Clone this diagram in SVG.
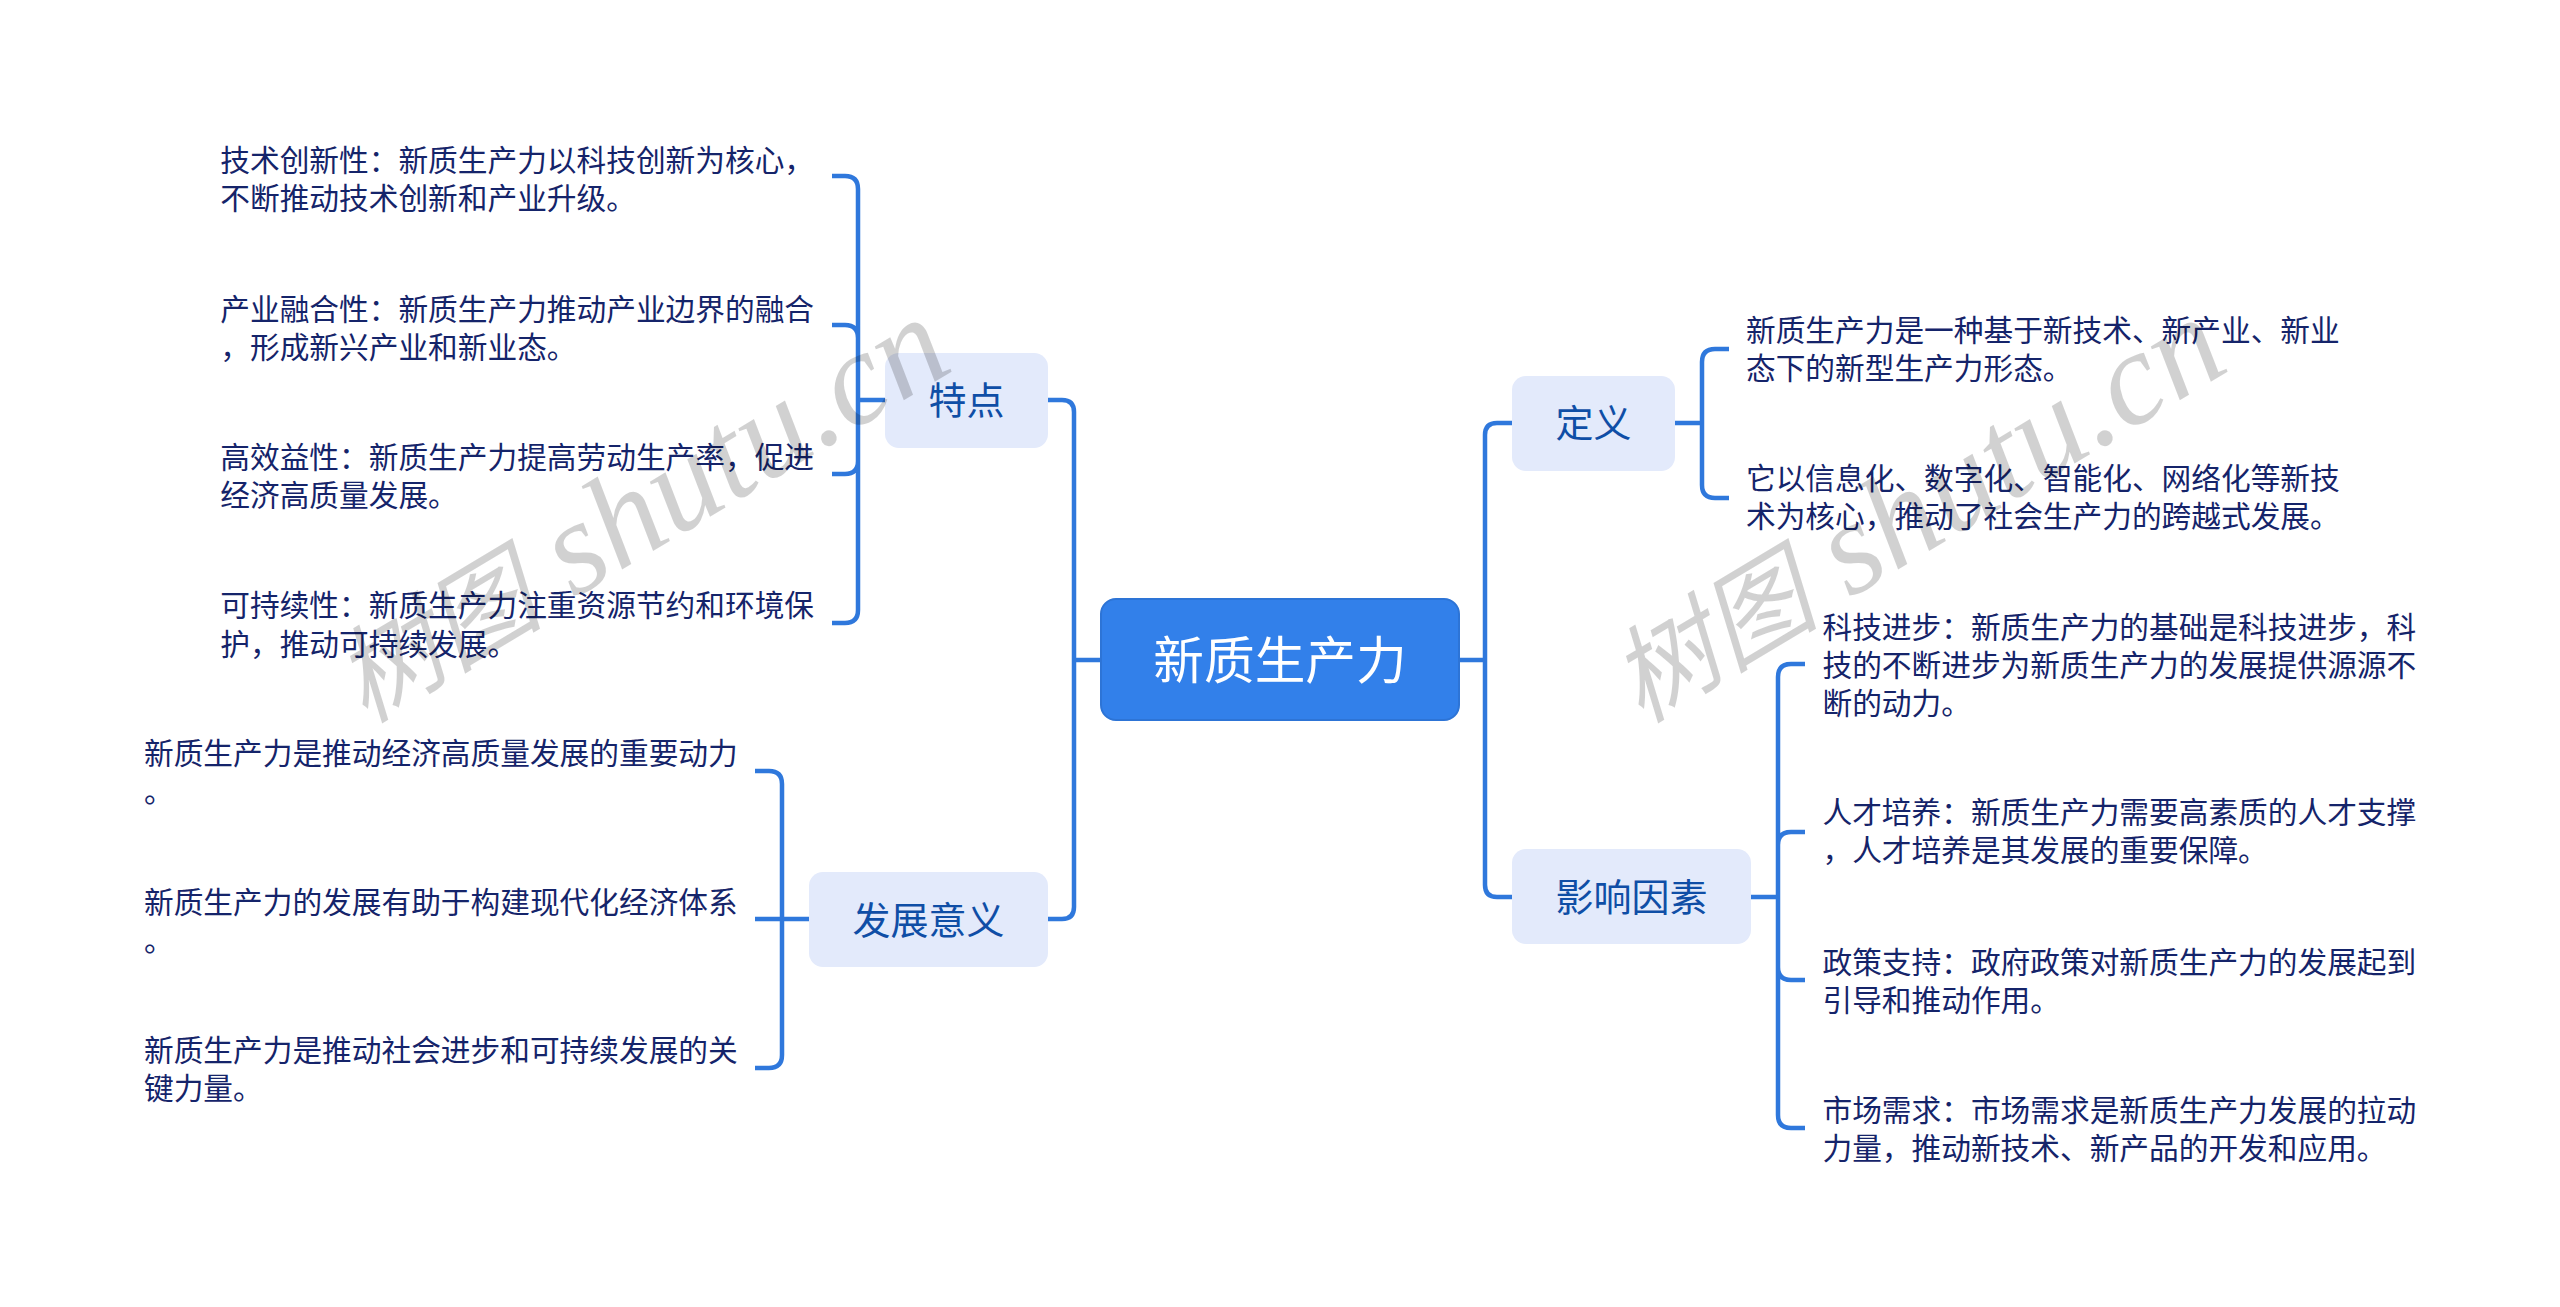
<svg xmlns="http://www.w3.org/2000/svg" width="2560" height="1307" viewBox="0 0 2560 1307">
<style>
text{font-family:"Noto Sans CJK SC","Noto Sans",sans-serif}
.c{fill:none;stroke:#2f78dc;stroke-width:4.5}
.b{fill:#e3eafb}
.n{font-size:38px;fill:#0f4ea6;text-anchor:middle}
.l{font-size:29.7px;fill:#15246a}
.w{font-style:italic;fill:#000;fill-opacity:.18}
.wc{font-size:105px}
.wl{font-family:"Liberation Serif",serif;font-size:133px}
</style>
<rect width="2560" height="1307" fill="#fff"/>
<g id="connectors">
<path class="c" d="M1101 660H1074M1048 400H1062Q1074 400 1074 412V907Q1074 919 1062 919H1048"/>
<path class="c" d="M1459 660H1485M1512 423H1497Q1485 423 1485 435V885Q1485 897 1497 897H1512"/>
<path class="c" d="M885 400H858M832 176H845Q858 176 858 189V610Q858 623 845 623H832M832 325H845Q858 325 858 338M858 461Q858 474 845 474H832"/>
<path class="c" d="M809 919H755M755 771H769Q782 771 782 784V1055Q782 1068 769 1068H755"/>
<path class="c" d="M1675 423H1702M1729 349H1715Q1702 349 1702 362V485Q1702 498 1715 498H1729"/>
<path class="c" d="M1751 897H1778M1805 664H1791Q1778 664 1778 677V1115Q1778 1128 1791 1128H1805M1805 832H1791Q1778 832 1778 845M1778 967Q1778 980 1791 980H1805"/>
</g>
<g id="root"><rect x="1101" y="599" width="358" height="121" rx="15" fill="#3280ea" stroke="#2d74d6" stroke-width="2"/><text x="1280" y="679" font-size="50.700" fill="#fff" text-anchor="middle">新质生产力</text></g>
<g id="n-tedian"><rect class="b" x="885" y="353" width="163" height="95" rx="14"/><text class="n" x="966.500" y="414">特点</text></g>
<g id="n-yiyi"><rect class="b" x="809" y="872" width="239" height="95" rx="14"/><text class="n" x="928.500" y="934">发展意义</text></g>
<g id="n-dingyi"><rect class="b" x="1512" y="376" width="163" height="95" rx="14"/><text class="n" x="1593.500" y="437">定义</text></g>
<g id="n-yingxiang"><rect class="b" x="1512" y="849" width="239" height="95" rx="14"/><text class="n" x="1631.500" y="911">影响因素</text></g>
<g id="leaf-1"><text class="l" x="220.300" y="170.500">技术创新性：新质生产力以科技创新为核心，</text><text class="l" x="220.300" y="209">不断推动技术创新和产业升级。</text></g>
<g id="leaf-2"><text class="l" x="220.300" y="319.500">产业融合性：新质生产力推动产业边界的融合</text><text class="l" x="220.300" y="357.500">，形成新兴产业和新业态。</text></g>
<g id="leaf-3"><text class="l" x="220.300" y="467.500">高效益性：新质生产力提高劳动生产率，促进</text><text class="l" x="220.300" y="506">经济高质量发展。</text></g>
<g id="leaf-4"><text class="l" x="220.300" y="616">可持续性：新质生产力注重资源节约和环境保</text><text class="l" x="220.300" y="654.500">护，推动可持续发展。</text></g>
<g id="leaf-5"><text class="l" x="144" y="764">新质生产力是推动经济高质量发展的重要动力</text><text class="l" x="144" y="802">。</text></g>
<g id="leaf-6"><text class="l" x="144" y="912.500">新质生产力的发展有助于构建现代化经济体系</text><text class="l" x="144" y="951">。</text></g>
<g id="leaf-7"><text class="l" x="144" y="1061">新质生产力是推动社会进步和可持续发展的关</text><text class="l" x="144" y="1099">键力量。</text></g>
<g id="leaf-8"><text class="l" x="1746" y="341">新质生产力是一种基于新技术、新产业、新业</text><text class="l" x="1746" y="379">态下的新型生产力形态。</text></g>
<g id="leaf-9"><text class="l" x="1746" y="489">它以信息化、数字化、智能化、网络化等新技</text><text class="l" x="1746" y="527">术为核心，推动了社会生产力的跨越式发展。</text></g>
<g id="leaf-10"><text class="l" x="1822.500" y="637.500">科技进步：新质生产力的基础是科技进步，科</text><text class="l" x="1822.500" y="675.500">技的不断进步为新质生产力的发展提供源源不</text><text class="l" x="1822.500" y="713.500">断的动力。</text></g>
<g id="leaf-11"><text class="l" x="1822.500" y="823">人才培养：新质生产力需要高素质的人才支撑</text><text class="l" x="1822.500" y="860.500">，人才培养是其发展的重要保障。</text></g>
<g id="leaf-12"><text class="l" x="1822.500" y="972.500">政策支持：政府政策对新质生产力的发展起到</text><text class="l" x="1822.500" y="1010.500">引导和推动作用。</text></g>
<g id="leaf-13"><text class="l" x="1822.500" y="1121">市场需求：市场需求是新质生产力发展的拉动</text><text class="l" x="1822.500" y="1159">力量，推动新技术、新产品的开发和应用。</text></g>
<g id="watermark"><text class="w" transform="translate(365 724) rotate(-31)"><tspan class="wc">树图</tspan><tspan class="wl"> shutu.cn</tspan></text><text class="w" transform="translate(1641 724) rotate(-31)"><tspan class="wc">树图</tspan><tspan class="wl"> shutu.cn</tspan></text></g>
</svg>
